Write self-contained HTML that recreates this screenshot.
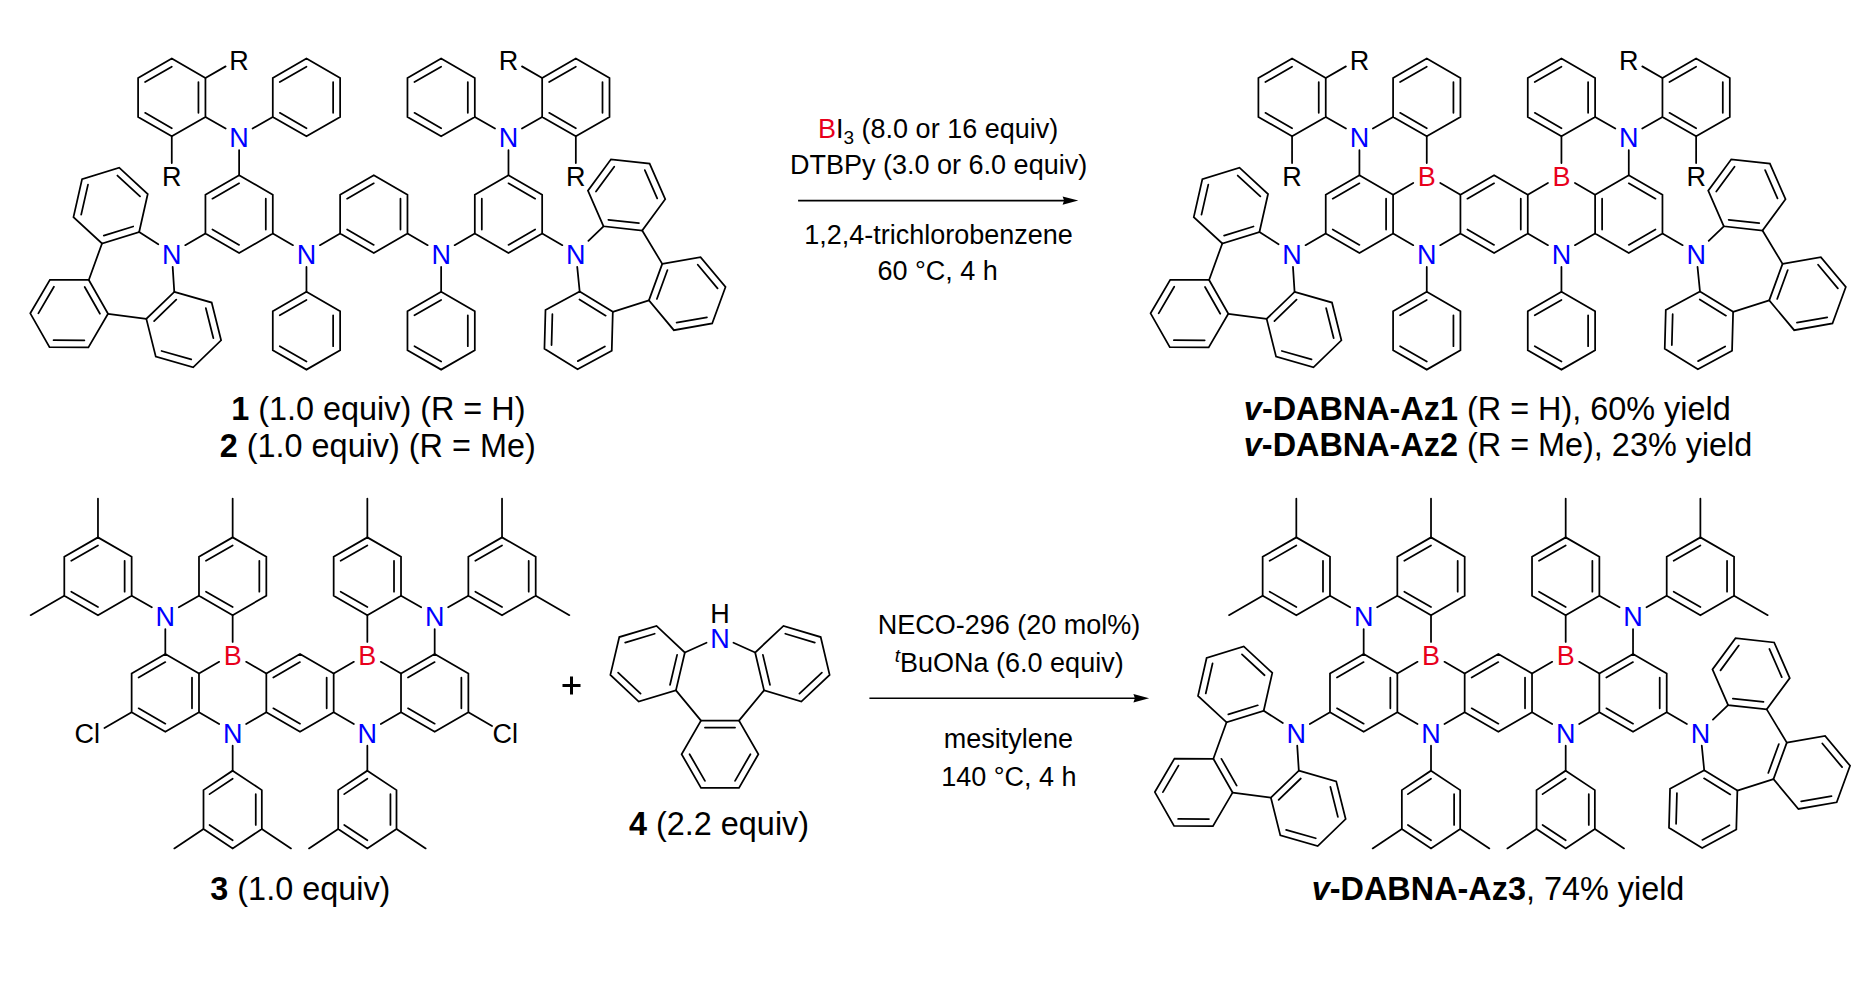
<!DOCTYPE html>
<html><head><meta charset="utf-8"><style>
html,body{margin:0;padding:0;background:#fff;}
svg{display:block;}
text{font-family:"Liberation Sans",sans-serif;}
</style></head><body>
<svg width="1873" height="984" viewBox="0 0 1873 984">
<rect width="1873" height="984" fill="#fff"/>
<path d="M239.12 175.22L272.79 194.66L272.79 233.54L239.12 252.98L205.44 233.54L205.44 194.66ZM373.80 175.22L407.47 194.66L407.47 233.54L373.80 252.98L340.13 233.54L340.13 194.66ZM508.48 175.22L542.16 194.66L542.16 233.54L508.48 252.98L474.81 233.54L474.81 194.66ZM171.77 58.58L205.44 78.02L205.44 116.90L171.77 136.34L138.10 116.90L138.10 78.02ZM306.46 58.58L340.13 78.02L340.13 116.90L306.46 136.34L272.79 116.90L272.79 78.02ZM441.14 58.58L474.81 78.02L474.81 116.90L441.14 136.34L407.47 116.90L407.47 78.02ZM575.83 58.58L609.50 78.02L609.50 116.90L575.83 136.34L542.16 116.90L542.16 78.02ZM306.46 291.86L340.13 311.30L340.13 350.18L306.46 369.62L272.79 350.18L272.79 311.30ZM441.14 291.86L474.81 311.30L474.81 350.18L441.14 369.62L407.47 350.18L407.47 311.30ZM139.15 231.97L147.74 194.05L119.20 167.65L82.07 179.16L73.47 217.08L102.01 243.48ZM88.80 279.99L108.04 313.78L88.39 347.34L49.51 347.10L30.28 313.31L49.92 279.76ZM174.28 291.86L211.67 302.55L221.11 340.26L193.17 367.30L155.78 356.61L146.34 318.90ZM603.54 226.28L587.93 190.67L610.97 159.35L649.61 163.64L665.22 199.26L642.18 230.57ZM662.26 263.84L700.56 257.15L725.51 286.97L712.16 323.48L673.86 330.18L648.91 300.36ZM579.67 291.46L612.81 311.80L611.76 350.67L577.58 369.20L544.44 348.86L545.49 309.99ZM1359.42 175.22L1393.09 194.66L1393.09 233.54L1359.42 252.98L1325.74 233.54L1325.74 194.66ZM1494.10 175.22L1527.77 194.66L1527.77 233.54L1494.10 252.98L1460.43 233.54L1460.43 194.66ZM1628.78 175.22L1662.46 194.66L1662.46 233.54L1628.78 252.98L1595.11 233.54L1595.11 194.66ZM1292.07 58.58L1325.74 78.02L1325.74 116.90L1292.07 136.34L1258.40 116.90L1258.40 78.02ZM1426.76 58.58L1460.43 78.02L1460.43 116.90L1426.76 136.34L1393.09 116.90L1393.09 78.02ZM1561.44 58.58L1595.11 78.02L1595.11 116.90L1561.44 136.34L1527.77 116.90L1527.77 78.02ZM1696.13 58.58L1729.80 78.02L1729.80 116.90L1696.13 136.34L1662.46 116.90L1662.46 78.02ZM1426.76 291.86L1460.43 311.30L1460.43 350.18L1426.76 369.62L1393.09 350.18L1393.09 311.30ZM1561.44 291.86L1595.11 311.30L1595.11 350.18L1561.44 369.62L1527.77 350.18L1527.77 311.30ZM1259.45 231.97L1268.04 194.05L1239.50 167.65L1202.37 179.16L1193.77 217.08L1222.31 243.48ZM1209.10 279.99L1228.34 313.78L1208.69 347.34L1169.81 347.10L1150.58 313.31L1170.22 279.76ZM1294.58 291.86L1331.97 302.55L1341.41 340.26L1313.47 367.30L1276.08 356.61L1266.64 318.90ZM1723.84 226.28L1708.23 190.67L1731.27 159.35L1769.91 163.64L1785.52 199.26L1762.48 230.57ZM1782.56 263.84L1820.86 257.15L1845.81 286.97L1832.46 323.48L1794.16 330.18L1769.21 300.36ZM1699.97 291.46L1733.11 311.80L1732.06 350.67L1697.88 369.20L1664.74 348.86L1665.79 309.99ZM165.32 654.02L198.99 673.46L198.99 712.34L165.32 731.78L131.64 712.34L131.64 673.46ZM300.00 654.02L333.67 673.46L333.67 712.34L300.00 731.78L266.33 712.34L266.33 673.46ZM434.68 654.02L468.36 673.46L468.36 712.34L434.68 731.78L401.01 712.34L401.01 673.46ZM97.97 537.38L131.64 556.82L131.64 595.70L97.97 615.14L64.30 595.70L64.30 556.82ZM232.66 537.38L266.33 556.82L266.33 595.70L232.66 615.14L198.99 595.70L198.99 556.82ZM367.34 537.38L401.01 556.82L401.01 595.70L367.34 615.14L333.67 595.70L333.67 556.82ZM502.03 537.38L535.70 556.82L535.70 595.70L502.03 615.14L468.36 595.70L468.36 556.82ZM232.66 770.66L261.82 790.10L261.82 828.98L232.66 848.42L203.50 828.98L203.50 790.10ZM367.34 770.66L396.50 790.10L396.50 828.98L367.34 848.42L338.18 828.98L338.18 790.10ZM1363.67 654.02L1397.34 673.46L1397.34 712.34L1363.67 731.78L1329.99 712.34L1329.99 673.46ZM1498.35 654.02L1532.02 673.46L1532.02 712.34L1498.35 731.78L1464.68 712.34L1464.68 673.46ZM1633.03 654.02L1666.71 673.46L1666.71 712.34L1633.03 731.78L1599.36 712.34L1599.36 673.46ZM1296.32 537.38L1329.99 556.82L1329.99 595.70L1296.32 615.14L1262.65 595.70L1262.65 556.82ZM1431.01 537.38L1464.68 556.82L1464.68 595.70L1431.01 615.14L1397.34 595.70L1397.34 556.82ZM1565.69 537.38L1599.36 556.82L1599.36 595.70L1565.69 615.14L1532.02 595.70L1532.02 556.82ZM1700.38 537.38L1734.05 556.82L1734.05 595.70L1700.38 615.14L1666.71 595.70L1666.71 556.82ZM1431.01 770.66L1460.17 790.10L1460.17 828.98L1431.01 848.42L1401.85 828.98L1401.85 790.10ZM1565.69 770.66L1594.85 790.10L1594.85 828.98L1565.69 848.42L1536.53 828.98L1536.53 790.10ZM1263.70 710.77L1272.29 672.85L1243.75 646.45L1206.62 657.96L1198.02 695.88L1226.56 722.28ZM1213.35 758.79L1232.59 792.58L1212.94 826.14L1174.06 825.90L1154.83 792.11L1174.47 758.56ZM1298.83 770.66L1336.22 781.35L1345.66 819.06L1317.72 846.10L1280.33 835.41L1270.89 797.70ZM1728.09 705.08L1712.48 669.47L1735.52 638.15L1774.16 642.44L1789.77 678.06L1766.73 709.37ZM1786.81 742.64L1825.11 735.95L1850.06 765.77L1836.71 802.28L1798.41 808.98L1773.46 779.16ZM1704.22 770.26L1737.36 790.60L1736.31 829.47L1702.13 848.00L1668.99 827.66L1670.04 788.79ZM684.85 652.51L675.93 690.35L638.69 701.54L610.38 674.89L619.31 637.05L656.54 625.86ZM755.15 652.51L764.07 690.35L801.31 701.54L829.62 674.89L820.69 637.05L783.46 625.86ZM701.00 720.60L739.00 720.60L758.40 754.20L739.00 787.90L701.00 787.90L681.60 754.20Z" stroke="#000" stroke-width="1.75" fill="none" stroke-linejoin="miter" stroke-miterlimit="4"/>
<path d="M212.44 198.70L239.12 183.30M265.79 198.70L265.79 229.50M239.12 244.90L212.44 229.50M347.13 198.70L373.80 183.30M400.47 198.70L400.47 229.50M373.80 244.90L347.13 229.50M508.48 183.30L535.16 198.70M535.16 229.50L508.48 244.90M481.81 229.50L481.81 198.70M145.10 82.06L171.77 66.66M198.44 82.06L198.44 112.86M171.77 128.26L145.10 112.86M279.79 82.06L306.46 66.66M333.13 82.06L333.13 112.86M306.46 128.26L279.79 112.86M414.47 82.06L441.14 66.66M467.81 82.06L467.81 112.86M441.14 128.26L414.47 112.86M549.16 82.06L575.83 66.66M602.50 82.06L602.50 112.86M575.83 128.26L549.16 112.86M279.79 315.34L306.46 299.94M333.13 315.34L333.13 346.14M306.46 361.54L279.79 346.14M414.47 315.34L441.14 299.94M467.81 315.34L467.81 346.14M441.14 361.54L414.47 346.14M239.12 150.24L239.12 175.22M225.62 128.55L205.44 116.90M252.62 128.55L272.79 116.90M508.48 150.24L508.48 175.22M494.98 128.55L474.81 116.90M521.98 128.55L542.16 116.90M292.96 245.19L272.79 233.54M319.96 245.19L340.13 233.54M306.46 266.88L306.46 291.86M427.64 245.19L407.47 233.54M454.64 245.19L474.81 233.54M441.14 266.88L441.14 291.86M185.27 245.19L205.44 233.54M562.33 245.19L542.16 233.54M205.44 78.02L225.62 66.37M171.77 136.34L171.77 163.12M542.16 78.02L521.98 66.37M575.83 136.34L575.83 163.12M103.80 235.60L133.21 226.48M140.02 196.44L117.42 175.53M88.00 184.65L81.19 214.68M84.72 286.97L99.95 313.73M84.39 340.31L53.60 340.12M38.36 313.36L53.92 286.78M154.11 321.12L176.24 299.70M205.86 308.17L213.34 338.04M191.20 359.46L161.59 350.99M158.27 244.29L139.15 231.97M172.67 266.88L174.28 291.86M102.01 243.48L88.80 279.99M108.04 313.78L146.34 318.90M638.94 223.17L608.33 219.77M595.97 191.56L614.22 166.76M644.83 170.16L657.19 198.36M656.87 298.97L667.45 270.04M697.79 264.74L717.55 288.36M706.97 317.28L676.63 322.59M579.46 299.54L605.70 315.65M604.87 346.44L577.80 361.12M551.55 345.01L552.38 314.22M588.39 240.88L603.54 226.28M577.22 266.88L579.67 291.46M642.18 230.57L662.26 263.84M648.91 300.36L612.81 311.80M1332.74 198.70L1359.42 183.30M1386.09 198.70L1386.09 229.50M1359.42 244.90L1332.74 229.50M1467.43 198.70L1494.10 183.30M1520.77 198.70L1520.77 229.50M1494.10 244.90L1467.43 229.50M1628.78 183.30L1655.46 198.70M1655.46 229.50L1628.78 244.90M1602.11 229.50L1602.11 198.70M1265.40 82.06L1292.07 66.66M1318.74 82.06L1318.74 112.86M1292.07 128.26L1265.40 112.86M1400.09 82.06L1426.76 66.66M1453.43 82.06L1453.43 112.86M1426.76 128.26L1400.09 112.86M1534.77 82.06L1561.44 66.66M1588.11 82.06L1588.11 112.86M1561.44 128.26L1534.77 112.86M1669.46 82.06L1696.13 66.66M1722.80 82.06L1722.80 112.86M1696.13 128.26L1669.46 112.86M1400.09 315.34L1426.76 299.94M1453.43 315.34L1453.43 346.14M1426.76 361.54L1400.09 346.14M1534.77 315.34L1561.44 299.94M1588.11 315.34L1588.11 346.14M1561.44 361.54L1534.77 346.14M1359.42 150.24L1359.42 175.22M1345.92 128.55L1325.74 116.90M1372.92 128.55L1393.09 116.90M1628.78 150.24L1628.78 175.22M1615.28 128.55L1595.11 116.90M1642.28 128.55L1662.46 116.90M1413.26 245.19L1393.09 233.54M1440.26 245.19L1460.43 233.54M1426.76 266.88L1426.76 291.86M1547.94 245.19L1527.77 233.54M1574.94 245.19L1595.11 233.54M1561.44 266.88L1561.44 291.86M1305.57 245.19L1325.74 233.54M1682.63 245.19L1662.46 233.54M1325.74 78.02L1345.92 66.37M1292.07 136.34L1292.07 163.12M1662.46 78.02L1642.28 66.37M1696.13 136.34L1696.13 163.12M1413.26 183.01L1393.09 194.66M1440.26 183.01L1460.43 194.66M1426.76 163.12L1426.76 136.34M1547.94 183.01L1527.77 194.66M1574.94 183.01L1595.11 194.66M1561.44 163.12L1561.44 136.34M1224.10 235.60L1253.51 226.48M1260.32 196.44L1237.72 175.53M1208.30 184.65L1201.49 214.68M1205.02 286.97L1220.25 313.73M1204.69 340.31L1173.90 340.12M1158.66 313.36L1174.22 286.78M1274.41 321.12L1296.54 299.70M1326.16 308.17L1333.64 338.04M1311.50 359.46L1281.89 350.99M1278.57 244.29L1259.45 231.97M1292.97 266.88L1294.58 291.86M1222.31 243.48L1209.10 279.99M1228.34 313.78L1266.64 318.90M1759.24 223.17L1728.63 219.77M1716.27 191.56L1734.52 166.76M1765.13 170.16L1777.49 198.36M1777.17 298.97L1787.75 270.04M1818.09 264.74L1837.85 288.36M1827.27 317.28L1796.93 322.59M1699.76 299.54L1726.00 315.65M1725.17 346.44L1698.10 361.12M1671.85 345.01L1672.68 314.22M1708.69 240.88L1723.84 226.28M1697.52 266.88L1699.97 291.46M1762.48 230.57L1782.56 263.84M1769.21 300.36L1733.11 311.80M138.64 677.50L165.32 662.10M191.99 677.50L191.99 708.30M165.32 723.70L138.64 708.30M273.33 677.50L300.00 662.10M326.67 677.50L326.67 708.30M300.00 723.70L273.33 708.30M408.01 677.50L434.68 662.10M461.36 677.50L461.36 708.30M434.68 723.70L408.01 708.30M71.30 560.86L97.97 545.46M124.64 560.86L124.64 591.66M97.97 607.06L71.30 591.66M205.99 560.86L232.66 545.46M259.33 560.86L259.33 591.66M232.66 607.06L205.99 591.66M340.67 560.86L367.34 545.46M394.01 560.86L394.01 591.66M367.34 607.06L340.67 591.66M475.36 560.86L502.03 545.46M528.70 560.86L528.70 591.66M502.03 607.06L475.36 591.66M209.56 794.14L232.66 778.74M255.76 794.14L255.76 824.94M232.66 840.34L209.56 824.94M344.24 794.14L367.34 778.74M390.44 794.14L390.44 824.94M367.34 840.34L344.24 824.94M165.32 629.04L165.32 654.02M151.82 607.35L131.64 595.70M178.82 607.35L198.99 595.70M434.68 629.04L434.68 654.02M421.18 607.35L401.01 595.70M448.18 607.35L468.36 595.70M219.16 723.99L198.99 712.34M246.16 723.99L266.33 712.34M232.66 745.68L232.66 770.66M353.84 723.99L333.67 712.34M380.84 723.99L401.01 712.34M367.34 745.68L367.34 770.66M219.16 661.81L198.99 673.46M246.16 661.81L266.33 673.46M232.66 641.92L232.66 615.14M353.84 661.81L333.67 673.46M380.84 661.81L401.01 673.46M367.34 641.92L367.34 615.14M97.97 537.38L97.97 498.50M64.30 595.70L30.63 615.14M232.66 537.38L232.66 498.50M367.34 537.38L367.34 498.50M502.03 537.38L502.03 498.50M535.70 595.70L569.37 615.14M203.50 828.98L174.34 848.42M261.82 828.98L290.98 848.42M338.18 828.98L309.02 848.42M396.50 828.98L425.66 848.42M131.64 712.34L104.47 728.03M468.36 712.34L492.03 726.01M1336.99 677.50L1363.67 662.10M1390.34 677.50L1390.34 708.30M1363.67 723.70L1336.99 708.30M1471.68 677.50L1498.35 662.10M1525.02 677.50L1525.02 708.30M1498.35 723.70L1471.68 708.30M1606.36 677.50L1633.03 662.10M1659.71 677.50L1659.71 708.30M1633.03 723.70L1606.36 708.30M1269.65 560.86L1296.32 545.46M1322.99 560.86L1322.99 591.66M1296.32 607.06L1269.65 591.66M1404.34 560.86L1431.01 545.46M1457.68 560.86L1457.68 591.66M1431.01 607.06L1404.34 591.66M1539.02 560.86L1565.69 545.46M1592.36 560.86L1592.36 591.66M1565.69 607.06L1539.02 591.66M1673.71 560.86L1700.38 545.46M1727.05 560.86L1727.05 591.66M1700.38 607.06L1673.71 591.66M1407.91 794.14L1431.01 778.74M1454.11 794.14L1454.11 824.94M1431.01 840.34L1407.91 824.94M1542.59 794.14L1565.69 778.74M1588.79 794.14L1588.79 824.94M1565.69 840.34L1542.59 824.94M1363.67 629.04L1363.67 654.02M1350.17 607.35L1329.99 595.70M1377.17 607.35L1397.34 595.70M1633.03 629.04L1633.03 654.02M1619.53 607.35L1599.36 595.70M1646.53 607.35L1666.71 595.70M1417.51 723.99L1397.34 712.34M1444.51 723.99L1464.68 712.34M1431.01 745.68L1431.01 770.66M1552.19 723.99L1532.02 712.34M1579.19 723.99L1599.36 712.34M1565.69 745.68L1565.69 770.66M1417.51 661.81L1397.34 673.46M1444.51 661.81L1464.68 673.46M1431.01 641.92L1431.01 615.14M1552.19 661.81L1532.02 673.46M1579.19 661.81L1599.36 673.46M1565.69 641.92L1565.69 615.14M1296.32 537.38L1296.32 498.50M1262.65 595.70L1228.98 615.14M1431.01 537.38L1431.01 498.50M1565.69 537.38L1565.69 498.50M1700.38 537.38L1700.38 498.50M1734.05 595.70L1767.72 615.14M1401.85 828.98L1372.69 848.42M1460.17 828.98L1489.33 848.42M1536.53 828.98L1507.37 848.42M1594.85 828.98L1624.01 848.42M1329.99 712.34L1309.82 723.99M1666.71 712.34L1686.88 723.99M1228.35 714.40L1257.76 705.28M1264.57 675.24L1241.97 654.33M1212.55 663.45L1205.74 693.48M1221.43 758.84L1236.67 785.61M1208.94 819.11L1178.15 818.92M1162.91 792.16L1178.47 765.58M1278.66 799.92L1300.79 778.50M1330.41 786.97L1337.89 816.84M1315.75 838.26L1286.14 829.79M1282.82 723.09L1263.70 710.77M1297.22 745.68L1298.83 770.66M1226.56 722.28L1213.35 758.79M1232.59 792.58L1270.89 797.70M1763.49 701.97L1732.88 698.57M1720.52 670.36L1738.77 645.56M1769.38 648.96L1781.74 677.16M1768.27 772.96L1778.85 744.03M1822.34 743.54L1842.10 767.16M1831.52 796.08L1801.18 801.39M1704.01 778.34L1730.25 794.45M1729.42 825.24L1702.35 839.92M1676.10 823.81L1676.93 793.02M1712.94 719.68L1728.09 705.08M1701.77 745.68L1704.22 770.26M1766.73 709.37L1786.81 742.64M1773.46 779.16L1737.36 790.60M677.11 654.83L670.04 684.81M640.55 693.67L618.12 672.57M625.19 642.59L654.69 633.73M762.89 654.83L769.96 684.81M799.45 693.67L821.88 672.57M814.81 642.59L785.31 633.73M704.95 727.59L735.05 727.59M750.42 754.21L735.05 780.90M704.95 780.90L689.58 754.21M706.50 642.71L684.85 652.51M733.50 642.71L755.15 652.51M675.93 690.35L701.00 720.60M764.07 690.35L739.00 720.60" stroke="#000" stroke-width="1.75" fill="none" stroke-linecap="round"/>
<g font-size="27">
<text x="239.12" y="147.34" fill="#0000ff" text-anchor="middle">N</text><text x="508.48" y="147.34" fill="#0000ff" text-anchor="middle">N</text><text x="306.46" y="263.98" fill="#0000ff" text-anchor="middle">N</text><text x="441.14" y="263.98" fill="#0000ff" text-anchor="middle">N</text><text x="171.77" y="263.98" fill="#0000ff" text-anchor="middle">N</text><text x="575.83" y="263.98" fill="#0000ff" text-anchor="middle">N</text><text x="239.12" y="69.58" fill="#000" text-anchor="middle">R</text><text x="171.77" y="186.22" fill="#000" text-anchor="middle">R</text><text x="508.48" y="69.58" fill="#000" text-anchor="middle">R</text><text x="575.83" y="186.22" fill="#000" text-anchor="middle">R</text><text x="1359.42" y="147.34" fill="#0000ff" text-anchor="middle">N</text><text x="1628.78" y="147.34" fill="#0000ff" text-anchor="middle">N</text><text x="1426.76" y="263.98" fill="#0000ff" text-anchor="middle">N</text><text x="1561.44" y="263.98" fill="#0000ff" text-anchor="middle">N</text><text x="1292.07" y="263.98" fill="#0000ff" text-anchor="middle">N</text><text x="1696.13" y="263.98" fill="#0000ff" text-anchor="middle">N</text><text x="1359.42" y="69.58" fill="#000" text-anchor="middle">R</text><text x="1292.07" y="186.22" fill="#000" text-anchor="middle">R</text><text x="1628.78" y="69.58" fill="#000" text-anchor="middle">R</text><text x="1696.13" y="186.22" fill="#000" text-anchor="middle">R</text><text x="1426.76" y="186.22" fill="#e8001c" text-anchor="middle">B</text><text x="1561.44" y="186.22" fill="#e8001c" text-anchor="middle">B</text><text x="165.32" y="626.14" fill="#0000ff" text-anchor="middle">N</text><text x="434.68" y="626.14" fill="#0000ff" text-anchor="middle">N</text><text x="232.66" y="742.78" fill="#0000ff" text-anchor="middle">N</text><text x="367.34" y="742.78" fill="#0000ff" text-anchor="middle">N</text><text x="232.66" y="665.02" fill="#e8001c" text-anchor="middle">B</text><text x="367.34" y="665.02" fill="#e8001c" text-anchor="middle">B</text><text x="99.97" y="742.78" fill="#000" text-anchor="end">Cl</text><text x="492.53" y="742.78" fill="#000" text-anchor="start">Cl</text><text x="1363.67" y="626.14" fill="#0000ff" text-anchor="middle">N</text><text x="1633.03" y="626.14" fill="#0000ff" text-anchor="middle">N</text><text x="1431.01" y="742.78" fill="#0000ff" text-anchor="middle">N</text><text x="1565.69" y="742.78" fill="#0000ff" text-anchor="middle">N</text><text x="1431.01" y="665.02" fill="#e8001c" text-anchor="middle">B</text><text x="1565.69" y="665.02" fill="#e8001c" text-anchor="middle">B</text><text x="1296.32" y="742.78" fill="#0000ff" text-anchor="middle">N</text><text x="1700.38" y="742.78" fill="#0000ff" text-anchor="middle">N</text><text x="720.00" y="647.60" fill="#0000ff" text-anchor="middle">N</text><text x="720.00" y="623.00" fill="#000" text-anchor="middle">H</text>
</g>
<text x="378.30" y="419.90" font-size="32.4" text-anchor="middle"><tspan font-weight="bold">1</tspan> (1.0 equiv) (R = H)</text><text x="377.75" y="457.40" font-size="32.4" text-anchor="middle"><tspan font-weight="bold">2</tspan> (1.0 equiv) (R = Me)</text><text x="300.35" y="899.50" font-size="32.4" text-anchor="middle"><tspan font-weight="bold">3</tspan> (1.0 equiv)</text><text x="719.05" y="835.40" font-size="32.4" text-anchor="middle"><tspan font-weight="bold">4</tspan> (2.2 equiv)</text><text x="1487.30" y="419.50" font-size="32.4" text-anchor="middle"><tspan font-weight="bold"><tspan font-style="italic">v</tspan>-DABNA-Az1</tspan> (R = H), 60% yield</text><text x="1498.10" y="456.10" font-size="32.4" text-anchor="middle"><tspan font-weight="bold"><tspan font-style="italic">v</tspan>-DABNA-Az2</tspan> (R = Me), 23% yield</text><text x="1498.10" y="899.60" font-size="32.4" text-anchor="middle"><tspan font-weight="bold"><tspan font-style="italic">v</tspan>-DABNA-Az3</tspan>, 74% yield</text><text x="938.10" y="138.10" font-size="27" text-anchor="middle"><tspan fill="#e8001c">B</tspan>I<tspan font-size="19" dy="6">3</tspan><tspan dy="-6"> (8.0 or 16 equiv)</tspan></text><text x="938.60" y="173.90" font-size="27" text-anchor="middle">DTBPy (3.0 or 6.0 equiv)</text><text x="938.55" y="244.30" font-size="27" text-anchor="middle">1,2,4-trichlorobenzene</text><text x="937.60" y="280.00" font-size="27" text-anchor="middle">60 °C, 4 h</text><text x="1009.05" y="634.10" font-size="27" text-anchor="middle">NECO-296 (20 mol%)</text><text x="1009.20" y="671.50" font-size="27" text-anchor="middle"><tspan font-style="italic" font-size="19" dy="-10">t</tspan><tspan dy="10">BuONa (6.0 equiv)</tspan></text><text x="1008.40" y="747.70" font-size="27" text-anchor="middle">mesitylene</text><text x="1008.90" y="785.70" font-size="27" text-anchor="middle">140 °C, 4 h</text>
<path d="M798.1 200.6H1064.3" stroke="#000" stroke-width="1.62" fill="none"/><path d="M1078.3 200.6L1062.6 196.4L1064.1 200.6L1062.6 204.8Z" fill="#000"/>
<path d="M869.4 698.2H1135.1" stroke="#000" stroke-width="1.62" fill="none"/><path d="M1149.1 698.2L1133.4 694.0L1134.9 698.2L1133.4 702.4Z" fill="#000"/>
<path d="M562.5 685.4H580.5M571.5 676.4V694.4" stroke="#000" stroke-width="3"/>
</svg>
</body></html>
